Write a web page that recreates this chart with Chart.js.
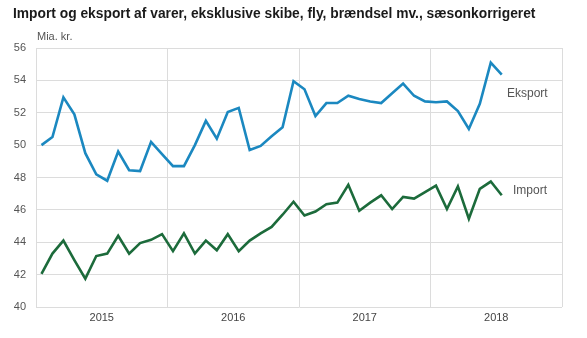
<!DOCTYPE html>
<html>
<head>
<meta charset="utf-8">
<script src="https://cdn.jsdelivr.net/npm/chart.js@4"></script>
<style>
  html, body { margin: 0; padding: 0; background: #fff; }
  #wrap { width: 587px; height: 338px; position: relative; }
</style>
</head>
<body>
<div id="wrap"><canvas id="chart"></canvas></div>
<script>
// monthly values, Jan 2015 - Jul 2018 (mia. kr.)
const years = ['2015', '2016', '2017', '2018'];
const eksport = [50.0, 50.5, 52.95, 51.9, 49.5, 48.2, 47.8, 49.6, 48.45, 48.4, 50.2, 49.45,
  48.7, 48.7, 50.0, 51.5, 50.4, 52.05, 52.3, 49.7, 49.95, 50.55, 51.1, 53.95,
  53.45, 51.8, 52.6, 52.6, 53.05, 52.85, 52.7, 52.6, 53.2, 53.8, 53.05, 52.7,
  52.65, 52.7, 52.1, 51.0, 52.55, 55.1, 54.35];
const importVals = [42.05, 43.3, 44.1, 42.9, 41.75, 43.15, 43.3, 44.4, 43.3, 43.95, 44.15, 44.5,
  43.45, 44.55, 43.3, 44.1, 43.5, 44.5, 43.45, 44.1, 44.55, 44.95, 45.7, 46.5,
  45.65, 45.9, 46.35, 46.45, 47.55, 45.95, 46.45, 46.9, 46.05, 46.8, 46.7, 47.1,
  47.5, 46.05, 47.45, 45.45, 47.3, 47.75, 46.9];
const yTicks = [40, 42, 44, 46, 48, 50, 52, 54, 56];

const FONT = '"Liberation Sans", Arial, sans-serif';
const BLUE = '#1b88c0';
const GREEN = '#1c6b3b';

// points sit in the middle of each month
const toPoints = arr => arr.map((v, i) => ({ x: i + 0.5, y: v }));

const textPlugin = {
  id: 'texts',
  afterDraw(chart) {
    const ctx = chart.ctx;
    const y = chart.scales.y;
    ctx.save();
    ctx.textBaseline = 'middle';
    ctx.fillStyle = '#1a1a1a';
    ctx.font = 'bold 13.8px ' + FONT;
    ctx.fillText('Import og eksport af varer, eksklusive skibe, fly, brændsel mv., sæsonkorrigeret', 13, 14);
    ctx.fillStyle = '#555';
    ctx.font = '11px ' + FONT;
    ctx.fillText('Mia. kr.', 37, 37);
    ctx.font = '12px ' + FONT;
    ctx.fillText('Eksport', 507, y.getPixelForValue(53.2));
    ctx.fillText('Import', 513, y.getPixelForValue(47.2));
    ctx.restore();
  }
};

new Chart(document.getElementById('chart'), {
  type: 'line',
  data: {
    datasets: [
      { label: 'Eksport', data: toPoints(eksport), borderColor: BLUE, borderWidth: 2.6, pointRadius: 0, tension: 0 },
      { label: 'Import', data: toPoints(importVals), borderColor: GREEN, borderWidth: 2.6, pointRadius: 0, tension: 0 }
    ]
  },
  options: {
    responsive: true,
    maintainAspectRatio: false,
    animation: false,
    layout: { padding: { top: 48, right: 25, bottom: 0, left: 0 } },
    plugins: { legend: { display: false }, tooltip: { enabled: false } },
    scales: {
      x: {
        type: 'linear',
        min: 0,
        max: years.length * 12,
        afterFit(s) { s.height = 31; },
        afterBuildTicks(s) {
          const t = [];
          for (let v = 0; v <= years.length * 12; v += 6) t.push({ value: v });
          s.ticks = t;
        },
        ticks: {
          autoSkip: false,
          maxRotation: 0,
          padding: 4,
          color: '#444',
          font: { family: FONT, size: 11 },
          callback: v => (v % 12 === 6 ? years[(v - 6) / 12] : '')
        },
        grid: {
          drawTicks: false,
          color: c => (c.tick && c.tick.value % 12 === 0 ? '#dcdcdc' : 'rgba(0,0,0,0)')
        },
        border: { display: false }
      },
      y: {
        min: 40,
        max: 56,
        afterFit(s) { s.width = 36; },
        afterBuildTicks(s) { s.ticks = yTicks.map(v => ({ value: v })); },
        ticks: {
          padding: 10,
          color: '#555',
          font: { family: FONT, size: 11 }
        },
        grid: { drawTicks: false, color: '#dcdcdc' },
        border: { color: '#dcdcdc' }
      }
    }
  },
  plugins: [textPlugin]
});
</script>
</body>
</html>
